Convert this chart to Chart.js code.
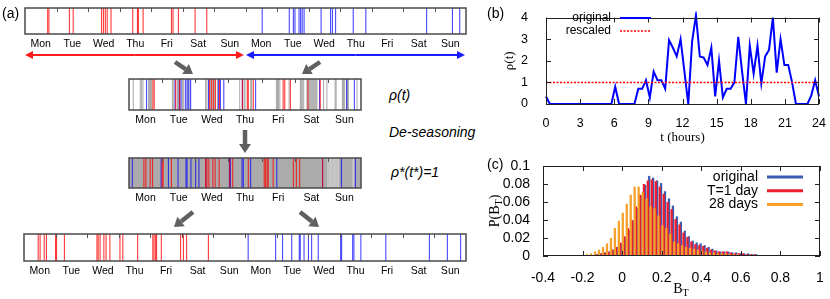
<!DOCTYPE html>
<html>
<head>
<meta charset="utf-8">
<title>weekly seasonality</title>
<script src="https://cdn.jsdelivr.net/npm/chart.js@4.4.1/dist/chart.umd.min.js"></script>
<style>
  body { margin: 0; background: #fff; }
  #page { position: relative; width: 830px; height: 299px; overflow: hidden; font-family: 'Liberation Sans', Arial, sans-serif; color: #000; }
  #page canvas, #page svg { position: absolute; }
  .t { position: absolute; white-space: nowrap; line-height: 1; font-size: 14px; }
  .it { font-style: italic; }
  .serif { font-family: 'Liberation Serif', 'Times New Roman', serif; }
  .mid { transform: translate(-50%, -50%); }
  .rot { transform: translate(-50%, -50%) rotate(-90deg); }
  sub { font-size: 72%; vertical-align: -0.3em; line-height: 0; }
</style>
</head>
<body>
<div id="page">
  <svg id="deco" width="830" height="299" style="left:0;top:0"></svg>
  <canvas id="week1" width="461" height="56" style="left:15px;top:0px"></canvas>
  <canvas id="folded" width="252" height="58" style="left:119px;top:71px"></canvas>
  <canvas id="flat" width="252" height="58" style="left:119px;top:150px"></canvas>
  <canvas id="week2" width="462" height="56" style="left:14px;top:226px"></canvas>
  <canvas id="rate" width="340" height="145" style="left:490px;top:0px"></canvas>
  <canvas id="hist" width="340" height="154" style="left:490px;top:145px"></canvas>

  <div class="t" style="left:2px;top:6px">(a)</div>
  <div class="t" style="left:487px;top:6px">(b)</div>
  <div class="t" style="left:487px;top:157px">(c)</div>
  <div class="t it" style="left:389px;top:88px">ρ(t)</div>
  <div class="t it" style="left:389px;top:125px">De-seasoning</div>
  <div class="t it" style="left:391px;top:165px">ρ*(t*)=1</div>
  <div class="t serif mid" style="left:681px;top:289px">B<sub>T</sub></div>
  <div class="t serif rot" style="left:495px;top:211px">P(B<sub>T</sub>)</div>
</div>

<script>
// ---- panel (a): event times in days, counted from Monday 00:00 ----
const dayNames = ['Mon', 'Tue', 'Wed', 'Thu', 'Fri', 'Sat', 'Sun'];
// real time, two weeks (first week red, second week blue)
const redReal = [0.72, 0.76, 1.41, 1.53, 2.43, 2.49, 2.55, 2.61, 2.73, 3.42, 3.57, 3.60, 3.75, 4.65, 4.70, 4.87, 5.40, 5.77];
const blueReal = [7.53, 8.39, 8.52, 8.57, 8.70, 8.75, 8.80, 8.86, 9.40, 9.70, 9.76, 9.86, 10.42, 10.82, 12.75, 13.57, 13.80];
// events of the other weeks, folded onto one week
const grayWeek = [0.13, 0.34, 0.38, 0.42, 0.59, 0.62, 0.65, 0.68,
  1.31, 1.35, 1.46, 1.49, 1.53, 1.61, 1.64, 1.77, 1.84,
  2.31, 2.35, 2.46, 2.52, 2.58, 2.67,
  3.34, 3.47, 3.50, 3.67, 3.70,
  4.45, 4.48, 4.51, 4.55, 4.83,
  5.17, 5.20, 5.23, 5.27, 5.37, 5.40, 5.43, 5.46, 5.49, 5.52, 5.55, 5.58, 5.61, 5.64, 5.67,
  5.87, 5.97, 6.22, 6.25, 6.44, 6.47, 6.50, 6.56, 6.59, 6.62, 6.88];
// de-seasoned time t*, two weeks
const redFlat = [0.45, 0.51, 0.64, 0.71, 1.00, 1.03, 1.28, 2.31, 2.35, 2.41, 2.53, 2.60, 2.72, 3.04, 3.13, 3.60,
  4.08, 4.12, 4.17, 4.20, 4.35, 4.96, 5.05, 5.15, 5.84];
const blueFlat = [7.10, 7.97, 8.19, 8.48, 8.72, 8.75, 8.87, 9.01, 9.11, 9.32, 10.03, 10.06, 10.41, 10.45, 10.67,
  11.46, 12.84, 13.41, 13.83];
const paleFlat = [6.00, 6.04, 6.08, 6.12, 6.16, 6.20, 6.24, 6.28, 6.32, 6.76, 6.78];

// ---- panel (b): daily activity rate ----
const rhoOriginal = [0.35, 0, 0, 0, 0, 0, 0, 0, 0, 0, 0, 0, 0, 0, 0, 0, 0, 0, 0.8, 0, 0, 0, 0, 0,
  0.7, 0.7, 1.1, 0.3, 1.5, 1.1, 1.1, 0.7,
  2.95, 2.6, 2.2, 3.0, 1.5, 0, 2.9, 4.1,
  2.2, 2.15, 1.8, 2.6, 0.35, 2.0, 0.3, 0.7,
  0.7, 1.0, 3.1, 1.5, 0, 2.7, 1.4, 2.7,
  0.95, 2.2, 2.5, 4.0, 1.45, 3.0, 1.8, 1.8,
  1.0, 0, 0, 0, 0, 0.4, 1.1, 0.35];
const rescaledLevel = 1;
const hours = rhoOriginal.map((_, i) => i * 24 / (rhoOriginal.length - 1)); // sampling grid over the day

// ---- panel (c): burstiness histograms ----
const binCenters = [-0.19, -0.17, -0.15, -0.13, -0.11, -0.09, -0.07, -0.05, -0.03, -0.01,
  0.01, 0.03, 0.05, 0.07, 0.09, 0.11, 0.13, 0.15, 0.17, 0.19,
  0.21, 0.23, 0.25, 0.27, 0.29, 0.31, 0.33, 0.35, 0.37, 0.39,
  0.41, 0.43, 0.45, 0.47, 0.49, 0.51, 0.53, 0.55, 0.57, 0.59,
  0.61, 0.63, 0.65, 0.67, 0.69, 0.71, 0.73, 0.75, 0.77, 0.79];
const pOriginal = [0, 0.0005, 0.001, 0.002, 0.003, 0.004, 0.005, 0.007, 0.010, 0.014,
  0.021, 0.029, 0.039, 0.053, 0.067, 0.079, 0.089, 0.087, 0.084, 0.081,
  0.072, 0.064, 0.056, 0.044, 0.038, 0.028, 0.022, 0.017, 0.015, 0.014,
  0.012, 0.010, 0.008, 0.006, 0.005, 0.005, 0.005, 0.004, 0.004, 0.003,
  0.003, 0.003, 0.002, 0.002, 0.001, 0.001, 0.001, 0.0005, 0.0005, 0];
const pOneDay = [0, 0.0005, 0.001, 0.002, 0.003, 0.004, 0.005, 0.007, 0.010, 0.015,
  0.022, 0.031, 0.040, 0.055, 0.068, 0.080, 0.084, 0.085, 0.083, 0.077,
  0.069, 0.060, 0.052, 0.041, 0.035, 0.026, 0.021, 0.016, 0.013, 0.012,
  0.011, 0.009, 0.007, 0.006, 0.005, 0.005, 0.005, 0.004, 0.003, 0.003,
  0.003, 0.002, 0.002, 0.002, 0.001, 0.001, 0.001, 0.0005, 0, 0];
const p28Days = [0.001, 0.002, 0.003, 0.005, 0.007, 0.010, 0.014, 0.020, 0.031, 0.039,
  0.048, 0.058, 0.068, 0.077, 0.077, 0.071, 0.064, 0.055, 0.053, 0.045,
  0.034, 0.031, 0.025, 0.016, 0.014, 0.012, 0.010, 0.009, 0.008, 0.007,
  0.006, 0.005, 0.004, 0.004, 0.003, 0.003, 0.003, 0.002, 0.002, 0.002,
  0.001, 0.001, 0.001, 0.001, 0.0005, 0.0005, 0, 0, 0, 0];
const histXTicks = [-0.4, -0.2, 0, 0.2, 0.4, 0.6, 0.8, 1];
const histYTicks = [0, 0.02, 0.04, 0.06, 0.08, 0.1];

Chart.defaults.font.family = "'Liberation Sans', Arial, sans-serif";
Chart.defaults.color = '#000';

// frame + day ticks for the barcode strips
const stripFrame = {
  id: 'stripFrame',
  beforeDatasetsDraw(chart, args, o) {
    if (!o.fill) return;
    const a = chart.chartArea, ctx = chart.ctx;
    ctx.save();
    ctx.fillStyle = o.fill;
    ctx.fillRect(a.left, a.top, a.right - a.left, a.bottom - a.top);
    ctx.restore();
  },
  afterDatasetsDraw(chart, args, o) {
    const a = chart.chartArea, ctx = chart.ctx, x = chart.scales.x;
    ctx.save();
    ctx.strokeStyle = '#555';
    ctx.lineWidth = 1;
    ctx.beginPath();
    for (let d = 1; d < o.days; d++) {
      const px = Math.round(x.getPixelForValue(d)) + 0.5;
      ctx.moveTo(px, a.top);
      ctx.lineTo(px, a.top + 4);
    }
    ctx.stroke();
    ctx.lineWidth = 1.5;
    ctx.strokeStyle = '#4a4a4a';
    ctx.strokeRect(a.left, a.top, a.right - a.left, a.bottom - a.top);
    ctx.restore();
  }
};

function makeStrip(id, days, axisH, sets, fill) {
  const centers = [];
  for (let d = 0; d < days; d++) centers.push(d + 0.5);
  return new Chart(document.getElementById(id), {
    type: 'bar',
    data: {
      datasets: sets.map(s => ({
        data: s.times.map(t => ({ x: t, y: 1 })),
        backgroundColor: s.color,
        barThickness: 1.1,
        inflateAmount: 0,
      })),
    },
    options: {
      responsive: false,
      animation: false,
      layout: { padding: { left: 10, right: 10, top: 8, bottom: 0 } },
      plugins: { legend: { display: false }, tooltip: { enabled: false }, stripFrame: { days, fill } },
      scales: {
        // stacked index axis: all datasets share one slot, so the lines sit on their own time
        x: {
          type: 'linear', min: 0, max: days, offset: false, stacked: true,
          afterBuildTicks: s => { s.ticks = centers.map(v => ({ value: v })); },
          afterFit: s => { s.height = axisH; },
          ticks: { callback: v => dayNames[Math.floor(v) % 7], autoSkip: false, maxRotation: 0, padding: 4, font: { size: 10.5 } },
          grid: { display: false, drawTicks: false },
          border: { display: false },
        },
        y: { min: 0, max: 1, display: false, stacked: false },
      },
    },
    plugins: [stripFrame],
  });
}

const RED = 'rgba(255,0,0,0.78)';
const BLUE = 'rgba(0,0,255,0.72)';
const GRAY = 'rgba(110,110,110,0.55)';
const toWeek = arr => arr.map(t => t - 7);

makeStrip('week1', 14, 22, [{ times: redReal, color: RED }, { times: blueReal, color: BLUE }]);
makeStrip('folded', 7, 19, [
  { times: redReal, color: RED },
  { times: toWeek(blueReal), color: BLUE },
  { times: grayWeek, color: GRAY },
]);
makeStrip('flat', 7, 20, [
  { times: redFlat, color: RED },
  { times: toWeek(blueFlat), color: BLUE },
  { times: paleFlat, color: 'rgba(225,225,225,0.6)' },
], '#ababab');
makeStrip('week2', 14, 21, [{ times: redFlat, color: RED }, { times: blueFlat, color: BLUE }]);

// gnuplot-like border with inward ticks on all sides
const gnuFrame = {
  id: 'gnuFrame',
  afterDatasetsDraw(chart) {
    const { ctx, chartArea: a, scales: { x, y } } = chart;
    ctx.save();
    ctx.strokeStyle = '#222';
    ctx.lineWidth = 1;
    ctx.strokeRect(Math.round(a.left) + 0.5, Math.round(a.top) + 0.5, Math.round(a.right - a.left) - 1, Math.round(a.bottom - a.top) - 1);
    ctx.beginPath();
    x.ticks.forEach(t => {
      const px = Math.round(x.getPixelForValue(t.value)) + 0.5;
      ctx.moveTo(px, a.bottom); ctx.lineTo(px, a.bottom - 5);
      ctx.moveTo(px, a.top); ctx.lineTo(px, a.top + 5);
    });
    y.ticks.forEach(t => {
      const py = Math.round(y.getPixelForValue(t.value)) + 0.5;
      ctx.moveTo(a.left, py); ctx.lineTo(a.left + 5, py);
      ctx.moveTo(a.right, py); ctx.lineTo(a.right - 5, py);
    });
    ctx.stroke();
    ctx.restore();
  }
};

// key: text right-aligned, sample line to its right
const key = {
  id: 'key',
  afterDraw(chart, args, o) {
    const ctx = chart.ctx;
    ctx.save();
    ctx.font = o.font;
    ctx.textAlign = 'right';
    ctx.textBaseline = 'middle';
    ctx.fillStyle = '#000';
    o.order.forEach((di, row) => {
      const ds = chart.data.datasets[di];
      const y = o.y + row * o.step;
      ctx.fillText(ds.label, o.x, y);
      ctx.strokeStyle = ds.borderColor || ds.backgroundColor;
      ctx.lineWidth = o.lineWidth || ds.borderWidth;
      ctx.setLineDash(ds.borderDash || []);
      ctx.beginPath();
      ctx.moveTo(o.x + o.gap, y);
      ctx.lineTo(o.x + o.gap + o.len, y);
      ctx.stroke();
    });
    ctx.restore();
  }
};

new Chart(document.getElementById('rate'), {
  type: 'line',
  data: {
    datasets: [
      { label: 'rescaled', data: [{ x: 0, y: rescaledLevel }, { x: 24, y: rescaledLevel }], borderColor: '#ff0000', borderWidth: 1.5, borderDash: [2, 1.5], pointRadius: 0 },
      { label: 'original', data: rhoOriginal.map((v, i) => ({ x: hours[i], y: v })), borderColor: '#0000ff', borderWidth: 2, pointRadius: 0, tension: 0, clip: 6 },
    ],
  },
  options: {
    responsive: false,
    animation: false,
    layout: { padding: { left: 0, right: 11, top: 9, bottom: 0 } },
    plugins: {
      legend: { display: false }, tooltip: { enabled: false },
      key: { x: 121, y: 18, step: 13, gap: 9, len: 31, font: "12px 'Liberation Sans'", order: [1, 0] },
    },
    scales: {
      x: {
        type: 'linear', min: 0, max: 24,
        ticks: { stepSize: 3, autoSkip: false, padding: 4, font: { size: 12.5 } },
        grid: { display: false }, border: { display: false },
        title: { display: true, text: 't (hours)', font: { family: "'Liberation Serif', serif", size: 13 }, padding: { top: 0, bottom: 0 } },
        afterFit: s => { s.height = 41; },
      },
      y: {
        min: 0, max: 4,
        ticks: { stepSize: 1, autoSkip: false, padding: 10, font: { size: 12.5 } },
        grid: { display: false }, border: { display: false },
        title: { display: true, text: 'ρ(t)', font: { family: "'Liberation Serif', serif", size: 13 }, padding: { top: 12, bottom: 0 } },
        afterFit: s => { s.width = 56; },
      },
    },
  },
  plugins: [gnuFrame, key],
});

const toXY = vals => vals.map((v, i) => ({ x: binCenters[i], y: v }));
const plain = v => String(+Number(v).toFixed(3));

new Chart(document.getElementById('hist'), {
  type: 'bar',
  data: {
    datasets: [
      { label: '28 days', data: toXY(p28Days), backgroundColor: '#f7a12a' },
      { label: 'T=1 day', data: toXY(pOneDay), backgroundColor: '#ee1d2e' },
      { label: 'original', data: toXY(pOriginal), backgroundColor: '#3c5bb4' },
    ],
  },
  options: {
    responsive: false,
    animation: false,
    datasets: { bar: { categoryPercentage: 1, barPercentage: 1.75 } },
    layout: { padding: { left: 0, right: 10, top: 21, bottom: 0 } },
    plugins: {
      legend: { display: false }, tooltip: { enabled: false },
      key: { x: 268, y: 32, step: 13.7, gap: 9, len: 36, lineWidth: 3, font: "14px 'Liberation Sans'", order: [2, 1, 0] },
    },
    scales: {
      x: {
        type: 'linear', min: -0.4, max: 1, offset: false,
        afterBuildTicks: s => { s.ticks = histXTicks.map(v => ({ value: v })); },
        ticks: { callback: plain, autoSkip: false, padding: 6, font: { size: 14 } },
        grid: { display: false }, border: { display: false },
        afterFit: s => { s.height = 43; },
      },
      y: {
        min: 0, max: 0.1,
        afterBuildTicks: s => { s.ticks = histYTicks.map(v => ({ value: v })); },
        ticks: { callback: plain, autoSkip: false, padding: 5, font: { size: 14 } },
        grid: { display: false }, border: { display: false },
        afterFit: s => { s.width = 53; },
      },
    },
  },
  plugins: [gnuFrame, key],
});

// arrows of the schematic
const svg = document.getElementById('deco');
const NS = 'http://www.w3.org/2000/svg';
function el(name, attrs) {
  const e = document.createElementNS(NS, name);
  for (const k in attrs) e.setAttribute(k, attrs[k]);
  svg.appendChild(e);
}
function arrow(x1, y1, x2, y2, color, w, hl, hw) {
  const len = Math.hypot(x2 - x1, y2 - y1), ux = (x2 - x1) / len, uy = (y2 - y1) / len;
  const bx = x2 - ux * hl, by = y2 - uy * hl;
  el('line', { x1, y1, x2: bx, y2: by, stroke: color, 'stroke-width': w });
  el('polygon', { points: `${x2},${y2} ${bx - uy * hw},${by + ux * hw} ${bx + uy * hw},${by - ux * hw}`, fill: color });
}
function span(xa, xb, y, color) {
  arrow((xa + xb) / 2, y, xa, y, color, 2, 8, 4);
  arrow((xa + xb) / 2, y, xb, y, color, 2, 8, 4);
}
span(25, 244, 55, '#ff1a1a');
span(246, 465, 55, '#1a1aff');
const GA = '#606060';
arrow(175, 62, 193, 74, GA, 4.5, 9, 6);
arrow(320, 62, 302, 74, GA, 4.5, 9, 6);
arrow(245, 130, 245, 153, GA, 4.5, 9, 6);
arrow(193, 212, 174, 227, GA, 4.5, 9, 6);
arrow(300, 212, 319, 227, GA, 4.5, 9, 6);
</script>
</body>
</html>
